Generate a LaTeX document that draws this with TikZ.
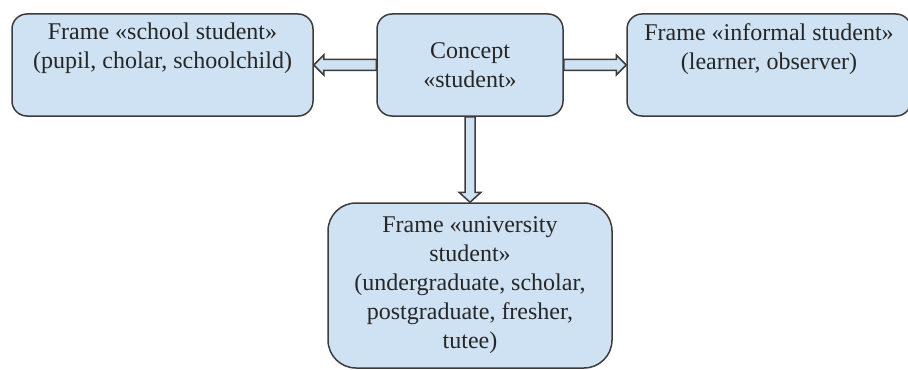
\documentclass[tikz,border=0pt]{standalone}
\usepackage{fontspec}
\setmainfont{Liberation Serif}
\usetikzlibrary{calc}
\definecolor{paleblue}{HTML}{CFE2F3}
\definecolor{edge}{HTML}{3C3C3C}
\begin{document}
\begin{tikzpicture}[x=0.5pt,y=-0.5pt,
  frame/.style={draw=edge,fill=paleblue,line width=0.75pt,rounded corners=7.5pt,
    align=center,inner sep=0pt,minimum height=51pt,text=black!85,
    font=\fontsize{12}{14.5}\selectfont},
  arr/.style={draw=edge,fill=paleblue,line width=0.75pt}]
\clip (0,0) rectangle (908,369);
% top row
\node[frame,minimum width=150.5pt] (school) at (162.5,65)
  {Frame «school student»\\(pupil, cholar, schoolchild)\\\strut};
\node[frame,minimum width=93pt] (concept) at (470,65) {Concept\\«student»};
\node[frame,minimum width=142pt] (informal) at (769,65)
  {Frame «informal student»\\(learner, observer)\\\strut};
% bottom
\node[frame,minimum width=142pt,minimum height=82.5pt,rounded corners=14pt] (university) at (470,285.5)
  {Frame «university\\student»\\(undergraduate, scholar,\\postgraduate, fresher,\\tutee)};
% arrows
\draw[arr] ($(concept.west)+(0,-5.5)$) -- ($(school.east)+(10,-5.5)$) -- ($(school.east)+(10,-10)$)
  -- (school.east) -- ($(school.east)+(10,10)$) -- ($(school.east)+(10,5.5)$)
  -- ($(concept.west)+(0,5.5)$) -- cycle;
\draw[arr] ($(concept.east)+(0,-5.5)$) -- ($(informal.west)+(-10,-5.5)$) -- ($(informal.west)+(-10,-10)$)
  -- (informal.west) -- ($(informal.west)+(-10,10)$) -- ($(informal.west)+(-10,5.5)$)
  -- ($(concept.east)+(0,5.5)$) -- cycle;
\draw[arr] ($(concept.south)+(-5,0)$) -- ($(university.north)+(-5,-10)$) -- ($(university.north)+(-11,-10)$)
  -- (university.north) -- ($(university.north)+(11,-10)$) -- ($(university.north)+(5,-10)$)
  -- ($(concept.south)+(5,0)$) -- cycle;
\end{tikzpicture}
\end{document}
